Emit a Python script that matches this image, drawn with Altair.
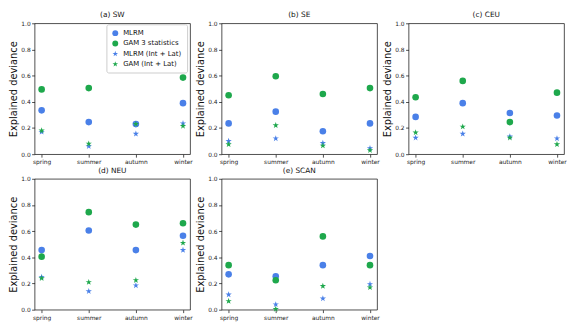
import altair as alt
import pandas as pd

seasons = ["spring", "summer", "autumn", "winter"]
series_names = ["MLRM", "GAM 3 statistics", "MLRM (Int + Lat)", "GAM (Int + Lat)"]
panel_titles = ["(a) SW", "(b) SE", "(c) CEU", "(d) NEU", "(e) SCAN"]

# values per panel: MLRM, GAM 3 statistics, MLRM (Int + Lat), GAM (Int + Lat)
sw_mlrm = [0.335, 0.245, 0.23, 0.39]
sw_gam = [0.495, 0.505, 0.665, 0.585]
sw_mlrm_il = [0.17, 0.06, 0.155, 0.235]
sw_gam_il = [0.18, 0.08, 0.23, 0.215]

se_mlrm = [0.235, 0.325, 0.175, 0.235]
se_gam = [0.45, 0.595, 0.46, 0.505]
se_mlrm_il = [0.10, 0.12, 0.085, 0.045]
se_gam_il = [0.075, 0.22, 0.065, 0.03]

ceu_mlrm = [0.285, 0.39, 0.315, 0.295]
ceu_gam = [0.435, 0.56, 0.245, 0.47]
ceu_mlrm_il = [0.125, 0.155, 0.135, 0.12]
ceu_gam_il = [0.165, 0.21, 0.125, 0.075]

neu_mlrm = [0.455, 0.605, 0.455, 0.565]
neu_gam = [0.405, 0.745, 0.65, 0.66]
neu_mlrm_il = [0.25, 0.14, 0.185, 0.455]
neu_gam_il = [0.24, 0.21, 0.225, 0.51]

scan_mlrm = [0.27, 0.255, 0.34, 0.41]
scan_gam = [0.34, 0.225, 0.56, 0.34]
scan_mlrm_il = [0.115, 0.04, 0.085, 0.195]
scan_gam_il = [0.065, 0.005, 0.18, 0.17]

BLUE = "#4a80e8"
GREEN = "#1ea84c"
STAR = ("M0,-1L0.225,-0.309L0.951,-0.309L0.363,0.118L0.588,0.809L0,0.382"
        "L-0.588,0.809L-0.363,0.118L-0.951,-0.309L-0.225,-0.309Z")
FONT = "DejaVu Sans"
W, H = 158, 133

legend = alt.Legend(
    title=None, orient="none", legendX=73, legendY=1,
    labelFontSize=7, labelFont=FONT, labelColor="#111",
    strokeColor="#cccccc", fillColor="white", cornerRadius=2,
    padding=5, rowPadding=3.5, symbolSize=36, labelLimit=300,
)


def panel(title, mlrm, gam, mlrm_il, gam_il):
    rows = []
    for name, vals in zip(series_names, [mlrm, gam, mlrm_il, gam_il]):
        for s, v in zip(seasons, vals):
            rows.append({"season": s, "series": name, "value": v})
    df = pd.DataFrame(rows)
    return alt.Chart(df, title=title).mark_point(
        filled=True, size=45, opacity=1
    ).encode(
        x=alt.X("season:N", sort=seasons,
                scale=alt.Scale(type="point", domain=seasons, padding=0.15),
                axis=alt.Axis(title=None, labelAngle=0)),
        y=alt.Y("value:Q", scale=alt.Scale(domain=[0, 1], nice=False, zero=True),
                axis=alt.Axis(title="Explained deviance",
                              values=[0, 0.2, 0.4, 0.6, 0.8, 1.0], format=".1f")),
        color=alt.Color("series:N",
                        scale=alt.Scale(domain=series_names,
                                        range=[BLUE, GREEN, BLUE, GREEN]),
                        legend=legend),
        shape=alt.Shape("series:N",
                        scale=alt.Scale(domain=series_names,
                                        range=["circle", "circle", STAR, STAR]),
                        legend=legend),
    ).properties(width=W, height=H)


a = panel(panel_titles[0], sw_mlrm, sw_gam, sw_mlrm_il, sw_gam_il)
b = panel(panel_titles[1], se_mlrm, se_gam, se_mlrm_il, se_gam_il)
c = panel(panel_titles[2], ceu_mlrm, ceu_gam, ceu_mlrm_il, ceu_gam_il)
d = panel(panel_titles[3], neu_mlrm, neu_gam, neu_mlrm_il, neu_gam_il)
e = panel(panel_titles[4], scan_mlrm, scan_gam, scan_mlrm_il, scan_gam_il)

top = alt.hconcat(a, b, c, spacing=32, bounds="flush")
bottom = alt.hconcat(d, e, spacing=32, bounds="flush")

chart = alt.vconcat(top, bottom, spacing=1).properties(
    padding=0
).configure_view(
    stroke="#222", strokeWidth=0.8
).configure_axis(
    domain=False, grid=False, tickColor="#222", tickSize=3, tickWidth=0.8,
    labelFontSize=6, labelFont=FONT, labelColor="#222", labelPadding=1.5,
    titleFont=FONT, titleFontSize=10, titleFontWeight="normal",
    titleColor="#111", titlePadding=2,
).configure_title(
    fontSize=7.5, font=FONT, fontWeight="normal", offset=1.5, color="#111"
)

chart.save("out.html", embed_options={"renderer": "svg", "actions": False})
